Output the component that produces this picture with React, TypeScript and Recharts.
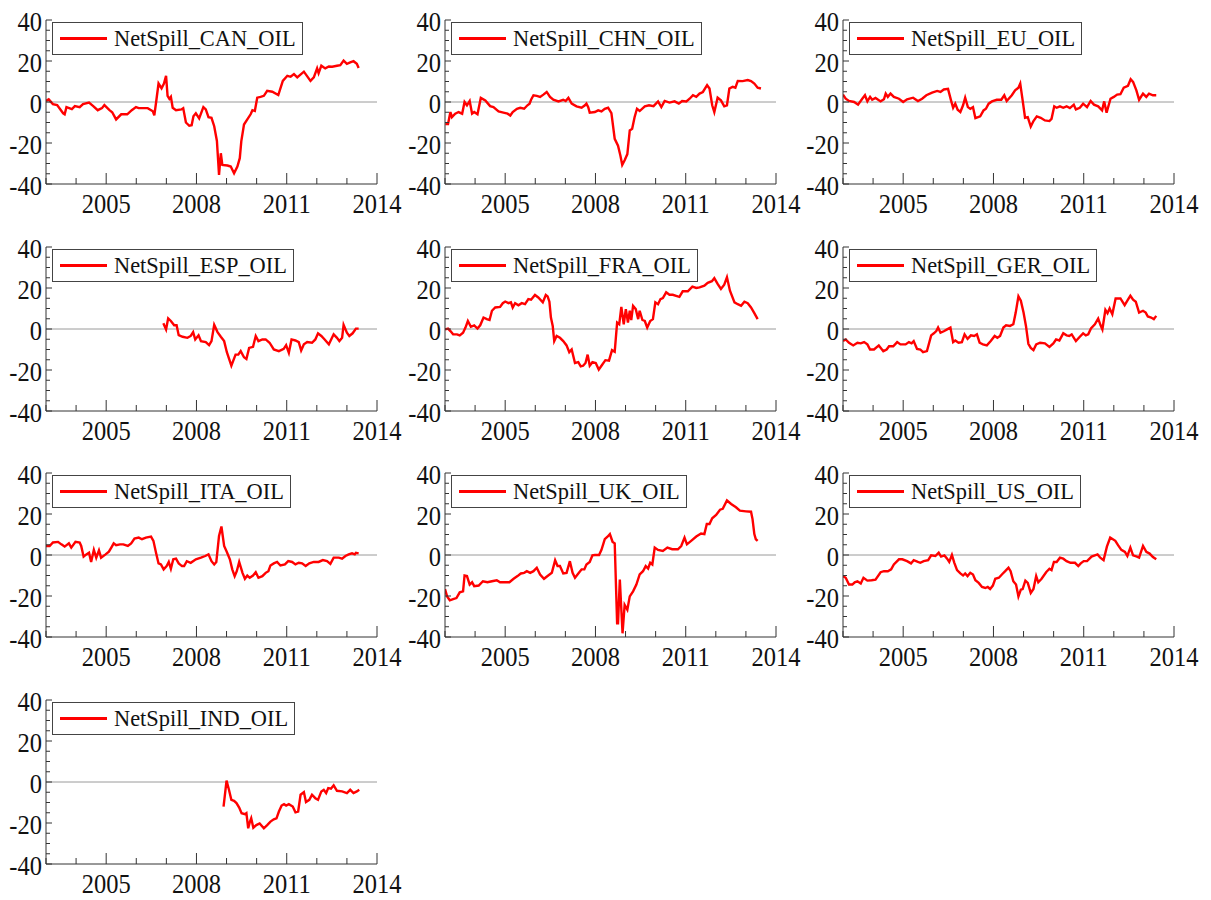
import React from "react";
import { LineChart, Line, XAxis, YAxis, ReferenceLine } from "recharts";

// [year, value]
const canOil: [number, number][] = [
  [2003.0, 0.5], [2003.09, 1.3], [2003.23, -1], [2003.37, -1.5], [2003.57, -5.5], [2003.62, -6], [2003.68, -2.5],
  [2003.86, -3.5], [2003.96, -2], [2004.12, -2.5], [2004.23, -1], [2004.43, -0.3], [2004.57, -2], [2004.72, -4],
  [2004.86, -3], [2004.94, -1.5], [2005.11, -4], [2005.2, -5], [2005.33, -8.5], [2005.5, -6], [2005.7, -6],
  [2005.85, -4], [2005.99, -2.5], [2006.08, -3], [2006.38, -3], [2006.55, -4.5], [2006.6, -6.5], [2006.66, 0],
  [2006.74, 9], [2006.84, 6.7], [2006.92, 9], [2006.99, 12.8], [2007.04, 3], [2007.1, 1.5], [2007.15, 2.5],
  [2007.21, -2.8], [2007.32, -4], [2007.5, -3.6], [2007.56, -3], [2007.65, -10], [2007.76, -11.6], [2007.84, -11.3],
  [2007.9, -7], [2007.98, -5.5], [2008.09, -8], [2008.23, -2.5], [2008.31, -3.6], [2008.4, -7.4], [2008.5, -7.7],
  [2008.59, -11.8], [2008.68, -19], [2008.75, -35.6], [2008.81, -25], [2008.86, -30.7], [2009.03, -31],
  [2009.14, -31.5], [2009.25, -34.8], [2009.36, -31.5], [2009.44, -27.4], [2009.49, -19.2], [2009.58, -11],
  [2009.69, -8.5], [2009.8, -6], [2009.86, -4], [2009.94, -4.4], [2010.02, 2.1], [2010.13, 2.5], [2010.24, 3],
  [2010.35, 5.4], [2010.52, 5], [2010.72, 3.4], [2010.87, 10.3], [2011.02, 12.8], [2011.13, 12.3], [2011.24, 13.6],
  [2011.35, 12], [2011.57, 14.8], [2011.79, 10.3], [2011.9, 12], [2012.01, 16.4], [2012.06, 14], [2012.15, 17.7],
  [2012.28, 16.4], [2012.4, 17.3], [2012.51, 17.2], [2012.67, 17.7], [2012.78, 18], [2012.89, 20.2], [2013.0, 18.6],
  [2013.11, 19.3], [2013.22, 19.9], [2013.33, 18.6], [2013.39, 16.6],
];

const chnOil: [number, number][] = [
  [2003.01, -10.7], [2003.1, -10.7], [2003.18, -4.9], [2003.23, -7.4], [2003.34, -5.7], [2003.45, -4.9],
  [2003.57, -5.7], [2003.65, 0], [2003.73, -1.6], [2003.82, 0.5], [2003.9, -5.7], [2003.97, -4.9], [2004.08, -6],
  [2004.19, 2], [2004.34, 0.8], [2004.5, -2], [2004.61, -2.5], [2004.78, -4.6], [2004.94, -5.2], [2005.08, -5.7],
  [2005.17, -6.6], [2005.25, -4.9], [2005.39, -3.3], [2005.5, -2.8], [2005.63, -3.3], [2005.74, -1.6],
  [2005.81, -0.8], [2005.86, 1.1], [2005.94, 3.3], [2006.05, 3], [2006.16, 2.5], [2006.27, 3.6], [2006.38, 4.9],
  [2006.49, 2.5], [2006.6, 1.1], [2006.77, 0.3], [2006.93, 1.1], [2007.01, 0.5], [2007.1, 2], [2007.21, -0.8],
  [2007.37, -2.1], [2007.54, -2.8], [2007.65, -1.6], [2007.7, -0.8], [2007.76, -2.5], [2007.81, -5.2],
  [2007.98, -4.9], [2008.09, -4.1], [2008.2, -4.6], [2008.31, -3.3], [2008.42, -2.8], [2008.53, -5.4],
  [2008.64, -18], [2008.75, -21.3], [2008.83, -26.2], [2008.89, -30.7], [2008.97, -28.4], [2009.06, -25.4],
  [2009.14, -13.9], [2009.22, -13.1], [2009.3, -7.4], [2009.38, -3.3], [2009.47, -4.4], [2009.64, -2.1],
  [2009.78, -1.6], [2009.93, -2], [2010.08, 0.3], [2010.19, -2.5], [2010.3, 0.5], [2010.46, -0.3], [2010.63, 0.3],
  [2010.77, -0.8], [2010.88, 0.5], [2011.02, 0.3], [2011.13, 1.6], [2011.24, 3.3], [2011.35, 2.5], [2011.46, 4.1],
  [2011.57, 4.9], [2011.71, 8.2], [2011.79, 6.6], [2011.88, -1.6], [2011.95, -4.9], [2012.06, 2.1], [2012.17, 0.8],
  [2012.28, -2.1], [2012.37, -1.6], [2012.45, 6.6], [2012.56, 7.4], [2012.65, 7], [2012.73, 10.3], [2012.89, 10.2],
  [2013.06, 10.7], [2013.17, 10.2], [2013.28, 9], [2013.39, 7], [2013.5, 6.6],
];

const euOil: [number, number][] = [
  [2003.0, 3.6], [2003.09, 1.6], [2003.2, 0.5], [2003.37, 0], [2003.5, -1.3], [2003.64, 1.6], [2003.73, 3.3],
  [2003.81, 0.3], [2003.9, 2.5], [2003.97, 1.1], [2004.08, 2], [2004.25, 0.3], [2004.36, 1.3], [2004.42, 4.1],
  [2004.49, 2.5], [2004.58, 4.1], [2004.69, 2.5], [2004.86, 1.6], [2005.0, 0], [2005.13, 1.3], [2005.33, 2.1],
  [2005.49, 0.5], [2005.63, 1.6], [2005.77, 3.3], [2005.96, 4.6], [2006.13, 5.4], [2006.24, 4.9], [2006.35, 6.1],
  [2006.49, 6.4], [2006.59, 0.8], [2006.66, -2.8], [2006.73, -0.8], [2006.81, -3.8], [2006.9, -4.9],
  [2006.99, -1.6], [2007.06, 2.1], [2007.15, -2.5], [2007.23, -3.3], [2007.32, -2.5], [2007.4, -7.9],
  [2007.56, -7], [2007.67, -4.1], [2007.75, -3.3], [2007.84, -0.8], [2007.95, 0.3], [2008.11, 1.1], [2008.26, 1.1],
  [2008.36, 3.3], [2008.44, 0.5], [2008.61, 3.3], [2008.72, 5.7], [2008.83, 7], [2008.89, 9], [2008.97, 0.8],
  [2009.05, -7.7], [2009.14, -7.4], [2009.24, -12], [2009.33, -9.3], [2009.44, -7], [2009.57, -7.7], [2009.71, -9],
  [2009.86, -9.3], [2009.93, -8.2], [2010.02, -2.1], [2010.1, -2.8], [2010.21, -2.1], [2010.32, -2.8],
  [2010.43, -2.1], [2010.54, -3], [2010.67, -1.3], [2010.74, -3.6], [2010.87, -2.8], [2010.98, -0.8],
  [2011.11, -2.5], [2011.23, 0.5], [2011.34, -1.3], [2011.48, -2.1], [2011.61, -4.1], [2011.68, 0.3],
  [2011.76, -5.2], [2011.89, 1.6], [2012.0, 2.5], [2012.11, 3.6], [2012.22, 3.8], [2012.33, 7], [2012.47, 7.9],
  [2012.56, 11.1], [2012.64, 9.8], [2012.75, 5.7], [2012.84, 1.1], [2012.97, 4.1], [2013.08, 2.5], [2013.17, 4.1],
  [2013.3, 3.3], [2013.41, 3.3],
];

const espOil: [number, number][] = [
  [2006.9, 2.8], [2006.99, -0.2], [2007.06, 5.2], [2007.15, 3.9], [2007.26, 1.8], [2007.34, 1.8], [2007.41, -3],
  [2007.54, -3.8], [2007.7, -4.3], [2007.81, -3.4], [2007.89, -1.5], [2007.96, -5.1], [2008.07, -3.1],
  [2008.15, -5.9], [2008.31, -6.4], [2008.42, -7.9], [2008.5, -5.9], [2008.59, 2], [2008.7, -1.5], [2008.81, -3.8],
  [2008.92, -5.9], [2009.01, -11.3], [2009.16, -17.9], [2009.3, -12.5], [2009.39, -12.5], [2009.47, -10.8],
  [2009.58, -13.8], [2009.66, -14.6], [2009.75, -9.2], [2009.88, -8.7], [2009.97, -3.4], [2010.06, -5.9],
  [2010.19, -5.1], [2010.3, -5.1], [2010.43, -6.7], [2010.57, -10], [2010.74, -10.8], [2010.9, -9.7],
  [2010.98, -7.9], [2011.07, -11.6], [2011.16, -5.1], [2011.29, -5.6], [2011.4, -6.4], [2011.48, -10.5],
  [2011.57, -7.5], [2011.68, -6.4], [2011.84, -6.7], [2011.95, -5.1], [2012.04, -2.1], [2012.15, -3.4],
  [2012.26, -5.1], [2012.4, -7.5], [2012.56, -2.6], [2012.67, -4.3], [2012.75, -5.9], [2012.84, -4.3],
  [2012.89, 2], [2013.0, -1.8], [2013.08, -3.4], [2013.19, -2.1], [2013.3, 0.2], [2013.39, 0.2],
];

const fraOil: [number, number][] = [
  [2003.0, -0.2], [2003.1, 0.2], [2003.18, -1], [2003.27, -2.6], [2003.4, -2.6], [2003.49, -3.1], [2003.6, -1.8],
  [2003.68, 0.7], [2003.76, 3.9], [2003.86, 1.1], [2003.97, 1.8], [2004.08, 0.2], [2004.17, 1.8], [2004.28, 5.6],
  [2004.39, 4.8], [2004.48, 4.4], [2004.56, 8.9], [2004.67, 10.5], [2004.83, 10.8], [2004.92, 12.6], [2005.0, 13.4],
  [2005.11, 12.6], [2005.19, 13], [2005.25, 10.5], [2005.33, 12.6], [2005.44, 11.6], [2005.55, 12.6],
  [2005.66, 12.1], [2005.77, 14.6], [2005.86, 14.3], [2005.99, 16.6], [2006.1, 15.4], [2006.25, 13],
  [2006.35, 16.6], [2006.41, 15.9], [2006.47, 13.3], [2006.52, 5.6], [2006.58, 1.5], [2006.63, -5.9],
  [2006.71, -3.4], [2006.82, -4.3], [2006.93, -5.9], [2007.04, -8], [2007.13, -11.3], [2007.21, -10],
  [2007.32, -16.6], [2007.43, -16.2], [2007.51, -18.2], [2007.59, -17.9], [2007.67, -16.6], [2007.74, -12.5],
  [2007.81, -17.9], [2007.9, -16.2], [2008.01, -16.6], [2008.11, -19.8], [2008.2, -17.9], [2008.33, -15.2],
  [2008.45, -15.4], [2008.55, -10.3], [2008.64, -11.1], [2008.72, 3.1], [2008.79, 2.3], [2008.86, 10.8],
  [2008.94, 2.3], [2009.01, 9.7], [2009.08, 3.1], [2009.14, 8.9], [2009.19, 4.3], [2009.25, 11.3], [2009.34, 9.7],
  [2009.42, 4.8], [2009.47, 8.9], [2009.56, 4.4], [2009.64, 3.9], [2009.72, 0.7], [2009.82, 3.9], [2009.91, 4.8],
  [2009.99, 13], [2010.08, 12.1], [2010.16, 14.6], [2010.24, 15.1], [2010.35, 17.9], [2010.46, 16.7],
  [2010.57, 16.7], [2010.68, 16.2], [2010.79, 15.7], [2010.9, 18.4], [2011.07, 18.4], [2011.22, 20.7],
  [2011.35, 20], [2011.46, 20.3], [2011.62, 21.1], [2011.73, 22.5], [2011.87, 23.3], [2011.95, 24.8], [2012.06, 22],
  [2012.17, 19.5], [2012.28, 21.6], [2012.37, 25.2], [2012.47, 18.7], [2012.62, 13], [2012.73, 12.1],
  [2012.84, 11.3], [2012.95, 13.3], [2013.06, 12.6], [2013.17, 10.5], [2013.28, 7.7], [2013.39, 4.8],
];

const gerOil: [number, number][] = [
  [2003.0, -5.9], [2003.09, -5.1], [2003.2, -6.7], [2003.34, -8], [2003.48, -6.7], [2003.59, -7], [2003.7, -6.4],
  [2003.81, -7.5], [2003.9, -10], [2004.03, -10], [2004.19, -8], [2004.34, -10.8], [2004.45, -10], [2004.53, -8.4],
  [2004.67, -8.4], [2004.8, -6.4], [2004.91, -7.5], [2005.08, -7.5], [2005.19, -6.4], [2005.28, -7], [2005.35, -5.9],
  [2005.46, -9.7], [2005.57, -10], [2005.66, -11.3], [2005.79, -10.8], [2005.93, -3.1], [2006.02, -2.1],
  [2006.1, -1], [2006.16, 0.7], [2006.24, -1.8], [2006.35, -1.1], [2006.46, -0.2], [2006.57, 0.7], [2006.66, -6.4],
  [2006.73, -5.6], [2006.84, -6.7], [2006.95, -6.4], [2007.04, -2.6], [2007.14, -4.8], [2007.25, -3.1],
  [2007.36, -3.4], [2007.45, -2.6], [2007.54, -6.7], [2007.65, -7.5], [2007.78, -8], [2007.91, -5.9],
  [2008.04, -3.4], [2008.13, -4.3], [2008.22, -3.4], [2008.33, 0.7], [2008.42, 1.8], [2008.55, 1.5], [2008.66, 2.3],
  [2008.74, 8], [2008.83, 15.9], [2008.91, 13.8], [2009.0, 8], [2009.08, 1.5], [2009.16, -7.2], [2009.24, -9.2],
  [2009.33, -10.3], [2009.42, -7.5], [2009.55, -6.7], [2009.71, -7], [2009.86, -8.7], [2009.99, -7],
  [2010.08, -5.1], [2010.19, -5.6], [2010.32, -2.1], [2010.43, -3.1], [2010.52, -3.4], [2010.6, -2.6],
  [2010.74, -5.9], [2010.87, -3.8], [2010.98, -2.1], [2011.07, -3.1], [2011.15, -2.6], [2011.24, 0.3],
  [2011.37, 2.3], [2011.48, 5.1], [2011.56, 1.8], [2011.62, -0.2], [2011.72, 9.3], [2011.79, 7.7], [2011.86, 10],
  [2011.95, 7.2], [2012.06, 14.9], [2012.22, 14.9], [2012.36, 11.6], [2012.47, 14.3], [2012.55, 16.2],
  [2012.64, 14.3], [2012.73, 13.3], [2012.84, 8], [2012.97, 8.9], [2013.06, 8], [2013.13, 6.1], [2013.24, 5.6],
  [2013.33, 4.8], [2013.41, 6.4],
];

const itaOil: [number, number][] = [
  [2003.0, 4.4], [2003.12, 4.4], [2003.23, 6.1], [2003.4, 6.4], [2003.51, 5.2], [2003.62, 4.1], [2003.76, 5.7],
  [2003.84, 3.6], [2003.98, 6.4], [2004.12, 6.1], [2004.17, 4.4], [2004.25, -0.8], [2004.34, 0.3], [2004.43, 1.1],
  [2004.5, -3.4], [2004.59, 2.5], [2004.67, -1.3], [2004.76, 2.3], [2004.83, -1.3], [2004.98, 0.3], [2005.09, 1.6],
  [2005.17, 3.6], [2005.25, 5.7], [2005.33, 4.8], [2005.46, 5.2], [2005.57, 5.2], [2005.72, 4.4], [2005.83, 5.7],
  [2005.94, 8], [2006.08, 8.5], [2006.19, 7.7], [2006.32, 8.5], [2006.49, 9], [2006.57, 6.9], [2006.66, 0.8],
  [2006.74, -4.1], [2006.82, -4.6], [2006.91, -7], [2007.01, -5.4], [2007.08, -3.4], [2007.15, -6.7],
  [2007.23, -2.1], [2007.32, -1.8], [2007.41, -4.1], [2007.52, -5.4], [2007.59, -5.4], [2007.68, -3],
  [2007.81, -3.8], [2007.98, -2.1], [2008.15, -1.3], [2008.29, -0.5], [2008.4, 0.3], [2008.5, -3], [2008.59, -4.6],
  [2008.66, -3.4], [2008.75, 9.3], [2008.83, 13.9], [2008.92, 4.4], [2009.01, 1.5], [2009.11, -2.1], [2009.19, -7],
  [2009.27, -10.3], [2009.34, -7.9], [2009.42, -3.4], [2009.53, -8.7], [2009.61, -11.6], [2009.69, -10],
  [2009.77, -11.1], [2009.88, -10], [2009.97, -8.4], [2010.06, -11.1], [2010.19, -10.3], [2010.3, -8.7],
  [2010.39, -7.9], [2010.46, -5.1], [2010.57, -4.1], [2010.68, -3.4], [2010.79, -5.1], [2010.94, -4.6],
  [2011.05, -3], [2011.18, -3.4], [2011.29, -4.6], [2011.4, -3.8], [2011.51, -4.1], [2011.63, -5.4],
  [2011.75, -4.1], [2011.9, -3.4], [2012.06, -3.4], [2012.2, -2.5], [2012.34, -3], [2012.45, -4.3],
  [2012.56, -1.3], [2012.73, -1.3], [2012.84, -1.8], [2012.95, -0.5], [2013.06, 0.3], [2013.17, 0.8],
  [2013.26, 0.3], [2013.3, 1.1], [2013.39, 0.8],
];

const ukOil: [number, number][] = [
  [2003.0, -16.6], [2003.07, -20.2], [2003.16, -22.1], [2003.27, -21.5], [2003.38, -21], [2003.49, -18.2],
  [2003.6, -17.7], [2003.65, -10], [2003.73, -10.3], [2003.82, -14.4], [2003.9, -13.3], [2003.97, -15.2],
  [2004.12, -14.9], [2004.26, -12.8], [2004.41, -13.3], [2004.56, -12.8], [2004.72, -12.3], [2004.83, -13.3],
  [2005.0, -13.3], [2005.14, -13.3], [2005.28, -11.6], [2005.41, -10.3], [2005.52, -9], [2005.63, -8.7],
  [2005.72, -7.9], [2005.83, -8.7], [2005.94, -7.9], [2006.05, -6.2], [2006.16, -9.5], [2006.29, -11.6],
  [2006.43, -10], [2006.55, -8.7], [2006.66, -2.6], [2006.74, -5.4], [2006.82, -5.4], [2006.93, -9],
  [2007.04, -8.7], [2007.15, -3], [2007.24, -8.7], [2007.32, -11.1], [2007.45, -8.7], [2007.54, -7],
  [2007.63, -7], [2007.7, -4.6], [2007.81, -3.4], [2007.9, -0.2], [2007.98, 0], [2008.12, 0], [2008.2, 2.5],
  [2008.31, 7.7], [2008.4, 8.9], [2008.48, 10.2], [2008.57, 6.4], [2008.64, 5.7], [2008.72, -33.3],
  [2008.75, -33.3], [2008.81, -12], [2008.9, -38.2], [2008.97, -24.3], [2009.06, -26.7], [2009.14, -20.2],
  [2009.25, -17.7], [2009.36, -14.4], [2009.47, -9.5], [2009.58, -7.9], [2009.67, -5.4], [2009.75, -6.6],
  [2009.82, -3.8], [2009.89, -4.6], [2009.97, 3.6], [2010.08, 2.5], [2010.24, 2], [2010.39, 3.6], [2010.55, 2.8],
  [2010.74, 2.8], [2010.85, 4.4], [2010.96, 8.5], [2011.04, 5.2], [2011.18, 6.9], [2011.35, 9], [2011.51, 10.5],
  [2011.62, 10.2], [2011.7, 15.1], [2011.79, 15.1], [2011.88, 17.9], [2012.01, 19.5], [2012.14, 22.1],
  [2012.23, 22.5], [2012.37, 26.6], [2012.51, 24.9], [2012.67, 23.3], [2012.8, 21.6], [2013.0, 21.3],
  [2013.17, 21.1], [2013.22, 17.5], [2013.28, 10.2], [2013.33, 7.7], [2013.39, 6.9],
];

const usOil: [number, number][] = [
  [2003.0, -10.3], [2003.09, -11.1], [2003.2, -14.4], [2003.31, -14.4], [2003.39, -13.3], [2003.48, -12.8],
  [2003.59, -13.9], [2003.68, -11.1], [2003.81, -12.5], [2003.95, -12.3], [2004.08, -12], [2004.25, -8.4],
  [2004.36, -7.9], [2004.49, -7.9], [2004.6, -7], [2004.69, -4.6], [2004.86, -2.1], [2004.97, -2.1],
  [2005.13, -3], [2005.26, -4.1], [2005.35, -2.5], [2005.49, -3.4], [2005.57, -3.8], [2005.68, -3],
  [2005.83, -2.5], [2005.93, -0.2], [2006.07, -0.5], [2006.18, 1.1], [2006.26, -0.8], [2006.37, -0.2],
  [2006.46, -1.8], [2006.53, -3.4], [2006.62, 0], [2006.7, -3.8], [2006.79, -7.4], [2006.9, -9], [2006.99, -10],
  [2007.06, -9], [2007.14, -10.3], [2007.23, -8.7], [2007.32, -9.5], [2007.4, -12.3], [2007.51, -13.6],
  [2007.62, -15.6], [2007.73, -16.1], [2007.81, -15.6], [2007.89, -16.6], [2007.98, -14.9], [2008.06, -11.6],
  [2008.18, -11.1], [2008.28, -9.5], [2008.39, -7.9], [2008.5, -6.2], [2008.57, -7.9], [2008.66, -12.8],
  [2008.75, -14.4], [2008.83, -20.2], [2008.91, -16.9], [2008.97, -16.6], [2009.06, -12.5], [2009.14, -13.6],
  [2009.24, -18.5], [2009.33, -16.6], [2009.42, -10.3], [2009.49, -13.3], [2009.6, -11.6], [2009.75, -8.4],
  [2009.86, -6.7], [2009.93, -7.4], [2010.01, -3.4], [2010.1, -3.4], [2010.21, -1.3], [2010.32, -1.8],
  [2010.43, -3], [2010.56, -3.8], [2010.71, -3.8], [2010.82, -5.4], [2010.9, -4.1], [2011.0, -3], [2011.11, -3],
  [2011.26, -0.8], [2011.37, -0.2], [2011.46, 0.3], [2011.55, -1.3], [2011.66, -2.5], [2011.77, 4.1],
  [2011.88, 8.5], [2012.05, 6.9], [2012.14, 4.8], [2012.25, 2.5], [2012.37, 1.5], [2012.45, -0.5], [2012.55, 3.6],
  [2012.64, -0.2], [2012.77, -0.8], [2012.84, -1.3], [2012.97, 4.4], [2013.08, 1.5], [2013.19, 0.7], [2013.3, -1],
  [2013.41, -2.1],
];

const indOil: [number, number][] = [
  [2008.9, -12], [2008.94, -7], [2009.0, 0.7], [2009.08, -3.8], [2009.16, -8.7], [2009.25, -9.2], [2009.33, -10.3],
  [2009.42, -12.5], [2009.5, -15.2], [2009.61, -15.7], [2009.66, -15.2], [2009.72, -22.6], [2009.77, -19.7],
  [2009.82, -17.7], [2009.89, -22.3], [2009.99, -21], [2010.1, -20.2], [2010.24, -22.6], [2010.35, -21],
  [2010.46, -19.3], [2010.57, -18.2], [2010.66, -17.7], [2010.74, -14.4], [2010.83, -11.5], [2010.91, -10.8],
  [2010.98, -11.5], [2011.07, -10.8], [2011.2, -12], [2011.29, -14.8], [2011.38, -14.4], [2011.46, -6.2],
  [2011.57, -4.9], [2011.64, -9.8], [2011.75, -8.7], [2011.84, -6.2], [2011.95, -7.9], [2012.04, -8.7],
  [2012.15, -4.6], [2012.23, -3.8], [2012.31, -5.4], [2012.38, -3], [2012.47, -3.3], [2012.56, -1.6],
  [2012.67, -4.3], [2012.84, -4.6], [2013.0, -5.4], [2013.11, -3.8], [2013.22, -5.4], [2013.33, -4.6],
  [2013.41, -3.8],
];

const seriesNames = [
  "NetSpill_CAN_OIL", "NetSpill_CHN_OIL", "NetSpill_EU_OIL",
  "NetSpill_ESP_OIL", "NetSpill_FRA_OIL", "NetSpill_GER_OIL",
  "NetSpill_ITA_OIL", "NetSpill_UK_OIL", "NetSpill_US_OIL",
  "NetSpill_IND_OIL",
];
const seriesData = [canOil, chnOil, euOil, espOil, fraOil, gerOil, itaOil, ukOil, usOil, indOil];

const yearTicks = [2003, 2004, 2005, 2006, 2007, 2008, 2009, 2010, 2011, 2012, 2013, 2014];
const labelYears = [2005, 2008, 2011, 2014];
const valueTicks = [-40, -35, -30, -25, -20, -15, -10, -5, 0, 5, 10, 15, 20, 25, 30, 35, 40];

const PLOT_LEFT = 46;
const PLOT_TOP = 20;
const PLOT_W = 331;
const PLOT_H = 164;
const PLOT_BOTTOM = PLOT_TOP + PLOT_H;
const RIGHT_PAD = 34;
const CHART_W = PLOT_LEFT + PLOT_W + RIGHT_PAD;
const CHART_H = PLOT_BOTTOM + 40;

const colLeft = [0, 399, 797];
const rowTop = [0, 227, 453, 680];

const SERIF = '"Liberation Serif", "Times New Roman", "DejaVu Serif", serif';
const AXIS = "#333";

const XTick = (props: any) => {
  const { x, payload } = props;
  const major = labelYears.includes(payload.value);
  return (
    <g>
      <line x1={x} x2={x} y1={PLOT_BOTTOM} y2={PLOT_BOTTOM - (major ? 11 : 6)} stroke={AXIS} strokeWidth={1} />
      {major && (
        <text transform={`translate(${x},${PLOT_BOTTOM + 29}) scale(0.875,1)`} textAnchor="middle"
          fontSize={28} fontFamily={SERIF} fill="#111">
          {payload.value}
        </text>
      )}
    </g>
  );
};

const YTick = (props: any) => {
  const { y, payload } = props;
  const major = payload.value % 20 === 0;
  return (
    <g>
      <line x1={PLOT_LEFT} x2={PLOT_LEFT + (major ? 6 : 4)} y1={y} y2={y} stroke={AXIS} strokeWidth={1} />
      {major && (
        <text transform={`translate(${PLOT_LEFT - 4},${y + 11}) scale(0.875,1)`} textAnchor="end"
          fontSize={28} fontFamily={SERIF} fill="#111">
          {payload.value}
        </text>
      )}
    </g>
  );
};

const Panel = ({ name, data, left, top }: { name: string; data: [number, number][]; left: number; top: number }) => {
  const rows = data.map(([t, v]) => ({ t, v }));
  return (
    <div style={{ position: "absolute", left, top, width: CHART_W, height: CHART_H }}>
      <LineChart width={CHART_W} height={CHART_H} data={rows}
        margin={{ top: PLOT_TOP, right: RIGHT_PAD, bottom: 0, left: 0 }}>
        <XAxis type="number" dataKey="t" domain={[2003, 2014]} ticks={yearTicks} interval={0} height={40}
          axisLine={{ stroke: AXIS }} tickLine={false} tick={XTick} allowDataOverflow />
        <YAxis type="number" domain={[-40, 40]} ticks={valueTicks} interval={0} width={PLOT_LEFT}
          axisLine={{ stroke: AXIS }} tickLine={false} tick={YTick} allowDataOverflow />
        <ReferenceLine y={0} stroke="#9a9a9a" strokeWidth={1} />
        <Line type="linear" dataKey="v" stroke="#ff0000" strokeWidth={2.4} dot={false} isAnimationActive={false} />
      </LineChart>
      <div style={{
        position: "absolute", left: 52, top: 22, height: 33, boxSizing: "border-box",
        border: "1px solid #444", background: "#fff", display: "flex", alignItems: "center",
        padding: "0 6px 0 7px", fontFamily: SERIF, fontSize: 22.4, color: "#111", whiteSpace: "nowrap",
      }}>
        <span style={{ display: "inline-block", width: 47, height: 3, background: "#ff0000", marginRight: 7 }} />
        <span>{name}</span>
      </div>
    </div>
  );
};

export default function App() {
  return (
    <div style={{ position: "absolute", left: 0, top: 0, width: 1211, height: 900, background: "#fff" }}>
      {seriesNames.map((name, i) => (
        <Panel key={name} name={name} data={seriesData[i]} left={colLeft[i % 3]} top={rowTop[Math.floor(i / 3)]} />
      ))}
    </div>
  );
}
